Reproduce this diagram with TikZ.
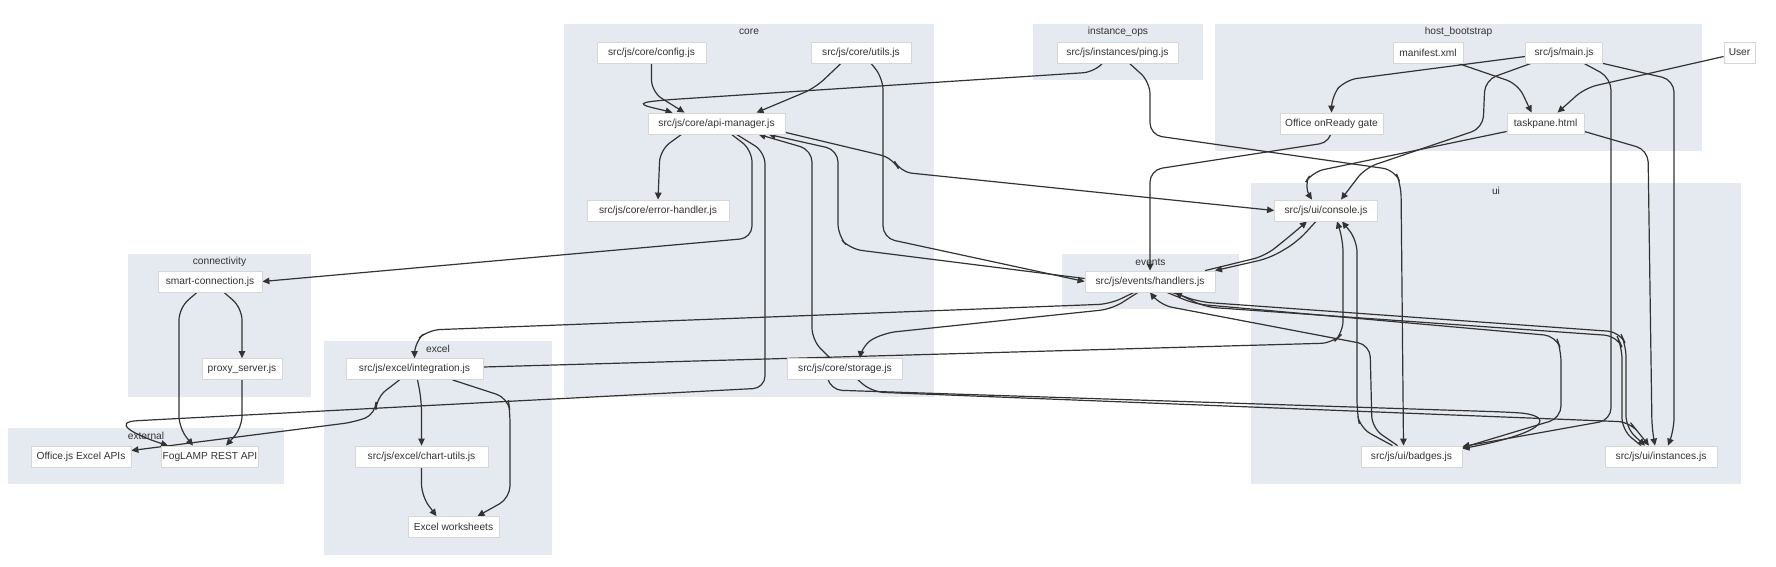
\documentclass[tikz,border=0pt]{standalone}
\usepackage{fontspec}
\setmainfont{Liberation Sans}
\usetikzlibrary{arrows.meta}
\definecolor{clusterbg}{HTML}{E5E9F0}
\definecolor{edgegray}{HTML}{333333}
\definecolor{boxline}{HTML}{D6D6D6}
\definecolor{txtgray}{HTML}{333333}
\pgfdeclarelayer{clusters}
\pgfdeclarelayer{edges}
\pgfsetlayers{clusters,edges,main}
\tikzset{
  box/.style={draw=boxline, fill=white, line width=0.8pt, text=txtgray,
    font=\fontsize{10.2}{12}\selectfont, minimum height=21, inner xsep=1.5pt, inner ysep=0pt},
  dep/.style={draw=edgegray, line width=1.2pt, rounded corners=12pt,
    -{Triangle[length=7pt,width=6.5pt]}},
  clusterlabel/.style={text=txtgray, font=\fontsize{10.2}{12}\selectfont, inner sep=0pt}
}
\begin{document}
\begin{tikzpicture}[x=1pt, y=-1pt]
    \useasboundingbox (0,0) rectangle (1776,567);
    % CLUSTERS
    \begin{pgfonlayer}{clusters}
        \foreach \xa/\ya/\xb/\yb/\lbl/\nm in {564/24/934/397/core/core,
            1033/24/1203/80/instance\_ops/instops, 1215/24/1702/151/host\_bootstrap/host,
            1251/183/1741/484/ui/ui, 1062/254/1239/309/events/events,
            128/254/311/397/connectivity/conn, 324/341/552/555/excel/excel,
            8/428/284/484/external/external} {
            \fill[clusterbg] (\xa,\ya) rectangle (\xb,\yb);
            \node[clusterlabel] (lbl-\nm) at ({(\xa+\xb)/2},\ya+8) {\lbl};
        }
    \end{pgfonlayer}
    % core
    \node[box, minimum width=109] (config) at (651.5,52.5) {src/js/core/config.js};
    \node[box, minimum width=100] (utils) at (861,52.5) {src/js/core/utils.js};
    \node[box, minimum width=137] (api) at (716.5,123.5) {src/js/core/api-manager.js};
    \node[box, minimum width=142] (errh) at (658,210.5) {src/js/core/error-handler.js};
    \node[box, minimum width=115] (storage) at (845,369) {src/js/core/storage.js};
    % instance_ops, host_bootstrap
    \node[box, minimum width=121] (ping) at (1117.5,52.5) {src/js/instances/ping.js};
    \node[box, minimum width=70] (manifest) at (1428,52.5) {manifest.xml};
    \node[box, minimum width=77] (mainjs) at (1564,52.5) {src/js/main.js};
    \node[box, minimum width=31] (user) at (1739.5,52.5) {User};
    \node[box, minimum width=103] (gate) at (1331.5,123.5) {Office onReady gate};
    \node[box, minimum width=77] (taskpane) at (1545.5,123.5) {taskpane.html};
    % ui, events
    \node[box, minimum width=103] (console) at (1326,210.5) {src/js/ui/console.js};
    \node[box, minimum width=130] (handlers) at (1150,281.5) {src/js/events/handlers.js};
    \node[box, minimum width=101] (badges) at (1411.5,456.5) {src/js/ui/badges.js};
    \node[box, minimum width=112] (instances) at (1661,456.5) {src/js/ui/instances.js};
    % connectivity, external, excel
    \node[box, minimum width=104] (smart) at (210,281.5) {smart-connection.js};
    \node[box, minimum width=80] (proxy) at (242,369) {proxy\_server.js};
    \node[box, minimum width=100] (officejs) at (81,456.5) {Office.js Excel APIs};
    \node[box, minimum width=94] (foglamp) at (210,456.5) {FogLAMP REST API};
    \node[box, minimum width=137] (integration) at (414.5,369) {src/js/excel/integration.js};
    \node[box, minimum width=133] (chartutils) at (421.5,456.5) {src/js/excel/chart-utils.js};
    \node[box, minimum width=91] (worksheets) at (453.5,527) {Excel worksheets};
    % EDGES
    \begin{pgfonlayer}{edges}
        % into and out of api-manager
        \draw[dep] (config.south) -- (651.5,92) -- ([xshift=-32]api.north);
        \draw[dep] ([xshift=-20]utils.south) -- (815,88) -- ([xshift=40]api.north);
        \draw[dep] ([xshift=-15]ping.south) -- (1095,72) -- (664,100) .. controls (630,104) and (655,108) .. ([xshift=-44]api.north);
        \draw[dep] ([xshift=-35]api.south) -- (660,150) -- (errh.north);
        \draw[dep] ([xshift=15]api.south) -- (752,150) -- (752,238) -- (smart.east);
        \draw[dep] ([xshift=20]api.south) -- (765,152) -- (765,388) -- (150,420) .. controls (112,422) and (132,434) .. ([xshift=-42]foglamp.north);
        \draw[dep] ([xshift=-15]storage.north) -- (812,340) -- (812,150) -- ([xshift=42]api.south);
        \draw[dep] ([yshift=3]handlers.west) -- (850,249) -- (838,236) -- (838,150) -- ([xshift=52]api.south);
        \draw[dep] ([yshift=2]api.south east) -- (893,158) -- (900,172) -- (console.west);
        \draw[dep] ([xshift=10]utils.south) -- (883,78) -- (883,238) -- (handlers.west);
        % host_bootstrap, instance_ops
        \draw[dep] ([xshift=12]ping.south) -- (1150,82) -- (1150,135) -- (1395,170) -- (1401,185) -- ([xshift=-8]badges.north);
        \draw[dep] (gate.south) -- (1331.5,142) -- (1150,170) -- (handlers.north);
        \draw[dep] ([yshift=-4]mainjs.west) -- (1345,80) -- (1331.5,96) -- (gate.north);
        \draw[dep] ([xshift=30]manifest.south) -- (1518,84) -- ([xshift=-14]taskpane.north);
        \draw[dep] ([yshift=-4]user.west) -- (1585,88) -- ([xshift=12]taskpane.north);
        \draw[dep] ([yshift=-8]taskpane.west) -- (1312,172) -- (1303,186) -- ([xshift=-14]console.north);
        \draw[dep] ([xshift=-33]mainjs.south) -- (1485,80) -- (1483,128) -- (1365,168) -- ([xshift=15]console.north);
        \draw[dep] ([xshift=20]mainjs.south) -- (1611,78) -- (1611,420) -- ([yshift=-1]badges.north east);
        \draw[dep] (mainjs.south east) -- (1674,80) -- (1674,430) -- ([xshift=7]instances.north);
        \draw[dep] ([yshift=-8]taskpane.east) -- (1648,150) -- (1652,430) -- ([xshift=-6]instances.north);
        % ui, events
        \draw[dep] ([xshift=55]handlers.north) -- (1265,256) -- (1290,236) -- ([xshift=-19]console.south);
        \draw[dep] ([xshift=-10]console.south) -- (1297,242) -- (1270,258) -- ([xshift=65]handlers.north);
        \draw[dep] ([yshift=2]integration.east) -- (1333,343) -- (1343,333) -- (1343,240) -- ([xshift=11]console.south);
        \draw[dep] ([xshift=-19]badges.north) -- (1360,428) -- (1357,412) -- (1357,240) -- ([xshift=16]console.south);
        \draw[dep] ([xshift=-14]badges.north) -- (1372,428) -- (1370,345) -- (1160,305) -- (handlers.south);
        \draw[dep] ([xshift=17]handlers.south) -- (1195,304) -- (1556,336) -- (1561,350) -- (1561,418) -- ([yshift=-2]badges.north east);
        \draw[dep] ([xshift=22]handlers.south) -- (1200,302) -- (1620,332) -- (1626,345) -- (1626,428) -- ([xshift=-16]instances.north);
        \draw[dep] ([xshift=-20]instances.north) -- (1622,430) -- (1622,347) -- (1617,336) -- (1205,307) -- ([xshift=25]handlers.south);
        \draw[dep] ([xshift=-16]handlers.south) -- (1110,304) -- (428,330) -- (414.5,342) -- (integration.north);
        \draw[dep] ([xshift=-12]handlers.south) -- (1112,309) -- (884,333) -- (862,345) -- ([xshift=15]storage.north);
        % storage
        \draw[dep] ([xshift=-17]storage.south) -- (830,390) -- (1505,412) .. controls (1555,415) and (1550,432) .. ([yshift=-3]badges.north east);
        \draw[dep] ([xshift=13]storage.south) -- (872,392) -- (1630,422) -- (1638,432) -- ([xshift=-12]instances.north);
        % connectivity
        \draw[dep] ([xshift=14]smart.south) -- (242,308) -- (proxy.north);
        \draw[dep] ([xshift=-13]smart.south) -- (179,308) -- (179,428) -- ([xshift=-17]foglamp.north);
        \draw[dep] (proxy.south) -- (242,428) -- ([xshift=16]foglamp.north);
        % excel
        \draw[dep] ([xshift=-15]integration.south) -- (376,398) -- (376,414) -- (355,422) -- ([yshift=6]officejs.east);
        \draw[dep] ([xshift=3]integration.south) -- (421.5,400) -- (chartutils.north);
        \draw[dep] ([xshift=38]integration.south) -- (508,398) -- (510,412) -- (510,498) -- ([xshift=24]worksheets.north);
        \draw[dep] (chartutils.south) -- (421.5,496) -- ([xshift=-17]worksheets.north);
    \end{pgfonlayer}
\end{tikzpicture}
\end{document}
